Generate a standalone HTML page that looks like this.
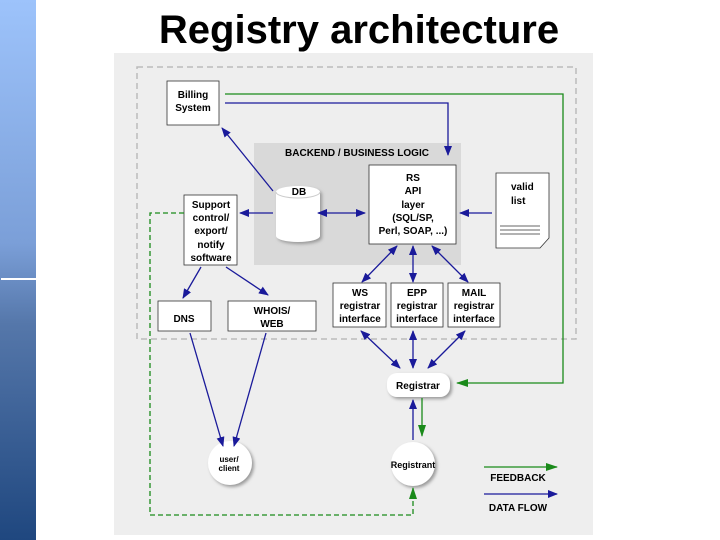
<!DOCTYPE html>
<html><head><style>
body{margin:0;width:720px;height:540px;background:#fff;position:relative;overflow:hidden;font-family:"Liberation Sans",sans-serif}
#bar{position:absolute;left:0;top:0;width:36px;height:540px;background:linear-gradient(#9dc3fb,#7b9fd8 45%,#5577aa 60%,#1f477f)}
#ln{position:absolute;left:1px;top:278px;width:35px;height:2px;background:#fff}
h1{position:absolute;left:0;width:718px;text-align:center;top:8px;margin:0;font-size:40px;font-weight:bold;color:#000}
</style></head><body>
<div id="bar"></div><div id="ln"></div>
<h1>Registry architecture</h1>
<svg width="720" height="540" style="position:absolute;left:0;top:0" font-family="Liberation Sans,sans-serif" font-weight="bold" font-size="10">
<defs>
<marker id="b" markerWidth="10" markerHeight="8" refX="9" refY="4" orient="auto-start-reverse" markerUnits="userSpaceOnUse"><path d="M0,0L10,4L0,8z" fill="#1a1a9a"/></marker>
<marker id="g" markerWidth="12" markerHeight="8" refX="11" refY="4" orient="auto-start-reverse" markerUnits="userSpaceOnUse"><path d="M0,0L12,4L0,8z" fill="#1a8a1a"/></marker>
<filter id="s"><feDropShadow dx="2" dy="2" stdDeviation="1.5" flood-color="#999"/></filter>
</defs>
<rect x="114" y="53" width="479" height="482" fill="#eeeeee"/>
<rect x="137" y="67" width="439" height="272" fill="none" stroke="#bbb" stroke-width="1.5" stroke-dasharray="6,4"/>
<rect x="254" y="143" width="207" height="122" fill="#d9d9d9"/>
<text x="357" y="156" text-anchor="middle">BACKEND / BUSINESS LOGIC</text>
<g fill="#fff" stroke="#333" stroke-width="0.8">
<rect x="167" y="81" width="52" height="44"/>
<rect x="369" y="165" width="87" height="79"/>
<rect x="184" y="195" width="53" height="70"/>
<rect x="158" y="301" width="53" height="30"/>
<rect x="228" y="301" width="88" height="30"/>
<rect x="333" y="283" width="53" height="44"/>
<rect x="391" y="283" width="52" height="44"/>
<rect x="448" y="283" width="52" height="44"/>
<path d="M496,173H549V238L540,248H496Z"/>
</g>
<g stroke="#333" stroke-width="0.8"><line x1="500" y1="226" x2="540" y2="226"/><line x1="500" y1="230" x2="540" y2="230"/><line x1="500" y1="234" x2="540" y2="234"/></g>
<g filter="url(#s)" fill="#fff">
<path d="M276,192 A22,6 0 0 1 320,192 V236 A22,6 0 0 1 276,236Z"/>
<rect x="387" y="373" width="63" height="24" rx="10"/>
<circle cx="230" cy="463" r="22"/>
<circle cx="413" cy="464" r="22"/>
</g>
<path d="M276,192 A22,6 0 0 0 320,192" fill="none" stroke="#ccc"/>
<g text-anchor="middle">
<text x="193" y="98">Billing</text><text x="193" y="111">System</text>
<text x="299" y="195">DB</text>
<text x="413" y="181">RS</text><text x="413" y="194">API</text><text x="413" y="208">layer</text><text x="413" y="221">(SQL/SP,</text><text x="413" y="234">Perl, SOAP, ...)</text>
<text x="211" y="208">Support</text><text x="211" y="221">control/</text><text x="211" y="234">export/</text><text x="211" y="248">notify</text><text x="211" y="261">software</text>
<text x="184" y="322">DNS</text>
<text x="272" y="314">WHOIS/</text><text x="272" y="327">WEB</text>
<text x="360" y="296">WS</text><text x="360" y="309">registrar</text><text x="360" y="322">interface</text>
<text x="417" y="296">EPP</text><text x="417" y="309">registrar</text><text x="417" y="322">interface</text>
<text x="474" y="296">MAIL</text><text x="474" y="309">registrar</text><text x="474" y="322">interface</text>
<text x="418" y="389">Registrar</text>
<text x="229" y="462" font-size="8">user/</text><text x="229" y="471" font-size="8">client</text>
<text x="413" y="468" font-size="9">Registrant</text>
<text x="518" y="481">FEEDBACK</text><text x="518" y="511">DATA FLOW</text>
</g>
<text x="511" y="190">valid</text><text x="511" y="204">list</text>
<g stroke="#1a1a9a" stroke-width="1.3" fill="none" marker-end="url(#b)">
<path d="M225,103H448V155"/>
<line x1="273" y1="191" x2="222" y2="128"/>
<line x1="273" y1="213" x2="240" y2="213"/>
<line x1="318" y1="213" x2="365" y2="213" marker-start="url(#b)"/>
<line x1="492" y1="213" x2="460" y2="213"/>
<line x1="397" y1="246" x2="362" y2="282" marker-start="url(#b)"/>
<line x1="413" y1="246" x2="413" y2="282" marker-start="url(#b)"/>
<line x1="432" y1="246" x2="468" y2="282" marker-start="url(#b)"/>
<line x1="201" y1="267" x2="183" y2="298"/>
<line x1="226" y1="267" x2="268" y2="295"/>
<line x1="190" y1="333" x2="223" y2="446"/>
<line x1="266" y1="333" x2="234" y2="446"/>
<line x1="361" y1="331" x2="400" y2="368" marker-start="url(#b)"/>
<line x1="413" y1="331" x2="413" y2="368" marker-start="url(#b)"/>
<line x1="465" y1="331" x2="428" y2="368" marker-start="url(#b)"/>
<line x1="413" y1="440" x2="413" y2="400"/>
<line x1="484" y1="494" x2="557" y2="494"/>
</g>
<g stroke="#1a8a1a" stroke-width="1.3" fill="none" marker-end="url(#g)">
<path d="M225,94H563V383H457"/>
<line x1="422" y1="398" x2="422" y2="436"/>
<path d="M184,213H150V515H413V488" stroke-dasharray="5,3"/>
<line x1="484" y1="467" x2="557" y2="467"/>
</g>
</svg>
</body></html>
